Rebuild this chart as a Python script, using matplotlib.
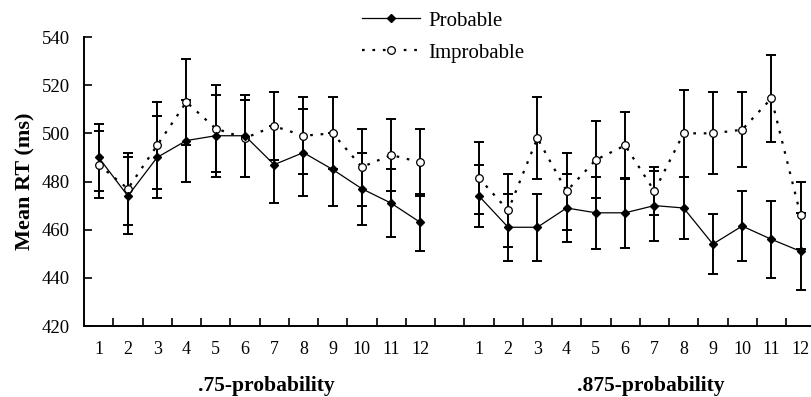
import matplotlib
matplotlib.use("Agg")
import matplotlib.pyplot as plt
from matplotlib.lines import Line2D

plt.rcParams['font.family'] = ['Liberation Serif', 'DejaVu Serif']

session_labels = ['1', '2', '3', '4', '5', '6', '7', '8', '9', '10', '11', '12']
condition_labels = ['.75-probability', '.875-probability']

prob_75 = [490, 474, 490, 497, 499, 499, 487, 492, 485, 477, 471, 463]
prob_75_err = [14, 16, 17, 17, 17, 17, 16, 18, 15, 15, 14, 12]
improb_75 = [487, 477, 495, 513, 502, 498, 503, 499, 500, 486, 491, 488]
improb_75_err = [14, 15, 18, 18, 18, 16, 14, 16, 15, 16, 15, 14]

prob_875 = [474, 461, 461, 469, 467, 467, 470, 469, 454, 461.5, 456, 451]
prob_875_err = [13, 14, 14, 14, 15, 14.5, 14.5, 13, 12.5, 14.5, 16, 16]
improb_875 = [481.5, 468, 498, 476, 489, 495, 476, 500, 500, 501.5, 514.5, 466]
improb_875_err = [15, 15, 17, 16, 16, 14, 10, 18, 17, 15.5, 18, 14]

n = len(session_labels)
x1 = list(range(1, n + 1))
x2 = list(range(n + 2, 2 * n + 2))

fig = plt.figure(figsize=(8.11, 3.97), dpi=100)
ax = fig.add_axes([84 / 811, 1 - 326 / 397, 1 - 84 / 811, (326 - 37) / 397])

err_kw = dict(fmt='none', ecolor='black', elinewidth=1.4, capsize=3.8, capthick=1.4, zorder=2)
prob_kw = dict(color='black', linestyle='-', linewidth=0.9, marker='D', markersize=4.5,
               markerfacecolor='black', markeredgecolor='black', zorder=3)
improb_kw = dict(color='black', linestyle=(0, (1.2, 3.5)), linewidth=1.6, marker='o', markersize=5.5,
                 markerfacecolor='white', markeredgecolor='black', markeredgewidth=0.9, zorder=3)

for xs, p, pe, im, ime in [(x1, prob_75, prob_75_err, improb_75, improb_75_err),
                           (x2, prob_875, prob_875_err, improb_875, improb_875_err)]:
    ax.errorbar(xs, p, yerr=pe, **err_kw)
    ax.errorbar(xs, im, yerr=ime, **err_kw)
    ax.plot(xs, im, **improb_kw)
    ax.plot(xs, p, **prob_kw)

ax.set_xlim(0.5, 0.5 + (811 - 84) / 29.25)
ax.set_ylim(420, 540)
ax.set_yticks(range(420, 541, 20))
ax.set_xticks(x1 + x2)
ax.set_xticklabels(session_labels + session_labels)
ax.set_xticks([i + 0.5 for i in range(1, 2 * n + 1)], minor=True)
ax.tick_params(axis='x', which='major', length=0, pad=11, labelsize=13)
ax.tick_params(axis='x', which='minor', direction='in', length=6, width=1.2)
ax.tick_params(axis='y', direction='in', length=6, width=1.2, pad=10, labelsize=13.5)
for s in ['top', 'right']:
    ax.spines[s].set_visible(False)
for s in ['left', 'bottom']:
    ax.spines[s].set_linewidth(1.4)

ax.set_ylabel('Mean RT (ms)', fontsize=16, fontweight='bold', labelpad=5)

fig.text(266 / 811, 1 - 386 / 397, condition_labels[0], ha='center', va='center',
         fontsize=15.5, fontweight='bold')
fig.text(651 / 811, 1 - 386 / 397, condition_labels[1], ha='center', va='center',
         fontsize=15.5, fontweight='bold')

handles = [Line2D([], [], **prob_kw), Line2D([], [], **improb_kw)]
fig.legend(handles, ['Probable', 'Improbable'], loc='upper left',
           bbox_to_anchor=(362 / 811, 1 - 11 / 397), frameon=False, fontsize=15,
           handlelength=2.8, handletextpad=0.4, labelspacing=0.6, borderpad=0,
           borderaxespad=0)

fig.savefig('out.png', dpi=100)
